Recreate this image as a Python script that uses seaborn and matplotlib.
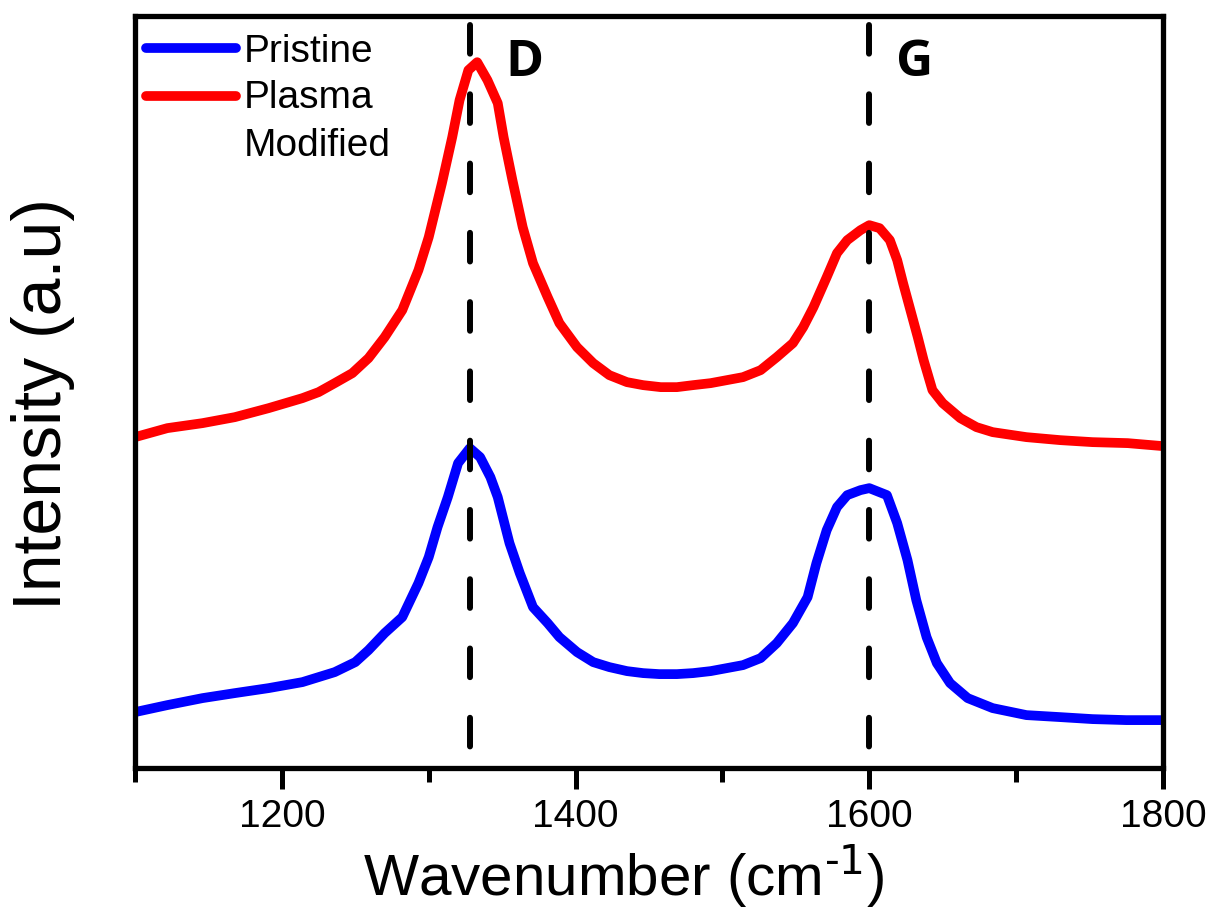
import numpy as np
import pandas as pd
import matplotlib
matplotlib.use("Agg")
import matplotlib.pyplot as plt
from matplotlib.ticker import FixedLocator, MultipleLocator
from matplotlib.legend_handler import HandlerLine2D
import seaborn as sns

# Raman spectra (arbitrary intensity units)
wavenumber_pristine = [1100, 1122, 1146, 1168, 1191, 1214, 1236, 1250, 1259, 1270,
                       1282, 1293, 1300, 1306, 1313, 1320, 1328, 1335, 1342, 1347,
                       1351, 1355, 1362, 1371, 1381, 1389, 1401, 1412, 1423, 1435,
                       1446, 1457, 1469, 1480, 1492, 1503, 1514, 1526, 1537, 1548,
                       1558, 1564, 1571, 1578, 1585, 1594, 1600, 1612, 1619, 1626,
                       1632, 1639, 1646, 1655, 1667, 1684, 1707, 1730, 1752, 1775,
                       1800]
intensity_pristine = [56, 63, 70, 75, 80, 86, 96, 106, 118, 135,
                      151, 185, 211, 241, 271, 305, 320, 311, 291, 271,
                      248, 225, 195, 161, 145, 131, 116, 106, 101, 97,
                      95, 94, 94, 95, 97, 100, 103, 110, 125, 145,
                      171, 205, 238, 261, 273, 278, 280, 273, 245, 208,
                      168, 131, 105, 85, 70, 60, 53, 51, 49, 48,
                      48]

wavenumber_plasma = [1100, 1122, 1146, 1168, 1191, 1214, 1225, 1236, 1248, 1259,
                     1270, 1282, 1293, 1300, 1309, 1316, 1321, 1327, 1333, 1340,
                     1347, 1351, 1357, 1364, 1371, 1381, 1389, 1401, 1412, 1423,
                     1435, 1446, 1458, 1469, 1480, 1492, 1503, 1514, 1526, 1537,
                     1548, 1555, 1562, 1571, 1578, 1585, 1594, 1600, 1607, 1614,
                     1619, 1623, 1628, 1633, 1637, 1643, 1650, 1662, 1673, 1684,
                     1707, 1730, 1752, 1776, 1800]
intensity_plasma = [331, 340, 345, 351, 360, 370, 376, 385, 395, 410,
                    431, 458, 498, 531, 585, 631, 668, 698, 706, 688,
                    665, 631, 588, 541, 505, 471, 445, 421, 405, 393,
                    386, 383, 381, 381, 383, 385, 388, 391, 398, 411,
                    425, 441, 461, 491, 515, 528, 538, 543, 540, 528,
                    508, 485, 458, 431, 408, 378, 365, 350, 341, 336,
                    331, 328, 326, 325, 322]

series_labels = ["Pristine", "Plasma\nModified"]
series_colors = ["#0000FF", "#FF0000"]
band_positions = [1328, 1600]
band_labels = ["D", "G"]
band_label_x = [1352, 1618]
x_ticks = [1200, 1400, 1600, 1800]

sns.set_style("white")
plt.rcParams["font.family"] = ["Liberation Sans", "DejaVu Sans"]
plt.rcParams["mathtext.default"] = "regular"
plt.rcParams["text.color"] = "black"
plt.rcParams["axes.labelcolor"] = "black"
plt.rcParams["xtick.color"] = "black"
plt.rcParams["ytick.color"] = "black"

df = pd.concat([
    pd.DataFrame({"Wavenumber": wavenumber_pristine,
                  "Intensity": intensity_pristine,
                  "Sample": series_labels[0]}),
    pd.DataFrame({"Wavenumber": wavenumber_plasma,
                  "Intensity": intensity_plasma,
                  "Sample": series_labels[1]}),
], ignore_index=True)

fig = plt.figure(figsize=(12.14, 9.09), dpi=100)
ax = fig.add_axes([0.1112, 0.155, 0.8468, 0.8272])

sns.lineplot(data=df, x="Wavenumber", y="Intensity", hue="Sample",
             hue_order=series_labels, palette=series_colors,
             estimator=None, sort=True, linewidth=7, ax=ax,
             solid_capstyle="round", solid_joinstyle="round", zorder=2)

ax.set_xlim(1100, 1800)
ax.set_ylim(0, 752)

# D and G band markers
for pos, lab, lx in zip(band_positions, band_labels, band_label_x):
    ax.plot([pos, pos], [743, 0], color="black", lw=4.3,
            dashes=(4.8, 6.8), dash_capstyle="round", zorder=3)
    ax.text(lx, 705, lab, fontsize=37, fontweight="bold",
            family="Open Sans", ha="left", va="center", color="black")

# axes frame and ticks
for side in ["left", "right", "top", "bottom"]:
    ax.spines[side].set_visible(True)
    ax.spines[side].set_linewidth(3.8)
    ax.spines[side].set_color("black")

ax.xaxis.set_major_locator(FixedLocator(x_ticks))
ax.xaxis.set_minor_locator(MultipleLocator(100))
ax.tick_params(axis="x", which="major", direction="out", length=15, width=3.6,
               labelsize=28, pad=7, bottom=True, top=False, color="black",
               labelcolor="black")
ax.tick_params(axis="x", which="minor", direction="out", length=10, width=3.6,
               bottom=True, top=False, color="black")
ax.tick_params(axis="y", left=False, right=False, labelleft=False)

ax.set_xlabel(r"Wavenumber (cm$^{\text{-1}}$)", fontsize=42)
ax.xaxis.set_label_coords(0.475, -0.099, transform=ax.transAxes)
ax.set_ylabel("Intensity (a.u)", fontsize=49)
ax.yaxis.set_label_coords(-0.058, 0.484, transform=ax.transAxes)


class LiftedLine(HandlerLine2D):
    """Legend line that sits on the first line of a multi-line label."""

    def __init__(self, lift=0.0, **kw):
        super().__init__(**kw)
        self.lift = lift

    def create_artists(self, legend, orig_handle, xdescent, ydescent,
                       width, height, fontsize, trans):
        artists = super().create_artists(legend, orig_handle, xdescent,
                                         ydescent, width, height, fontsize, trans)
        for a in artists:
            a.set_ydata(np.asarray(a.get_ydata(), dtype=float) + self.lift * fontsize)
        return artists


handles, labels = ax.get_legend_handles_labels()
for h in handles:
    h.set_linewidth(7)
    h.set_solid_capstyle("round")
leg = ax.legend(handles, labels, loc="upper left", bbox_to_anchor=(-0.006, 1.0),
                frameon=False, fontsize=28, handlelength=2.3, handletextpad=0.2,
                borderaxespad=0.25, borderpad=0.2, labelspacing=0.27,
                handler_map={handles[1]: LiftedLine(lift=0.69)})
for t in leg.get_texts():
    t.set_linespacing(1.43)
    t.set_color("black")

fig.savefig("out.png", dpi=100, facecolor="white")
